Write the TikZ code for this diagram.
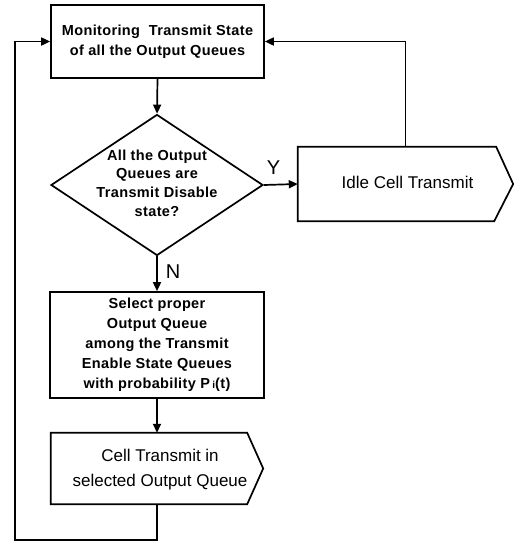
\documentclass[tikz,border=0pt]{standalone}
\usepackage{fontspec}
\setmainfont{Liberation Sans}
\newfontfamily\spacedsans[LetterSpace=2.5]{Liberation Sans}
\usetikzlibrary{arrows.meta,shapes.geometric}

\tikzset{
  outline/.style={draw=black, line width=1.7pt},
  boxnode/.style={outline, rectangle, inner sep=0pt, align=center,
    font=\spacedsans\bfseries\fontsize{14.5}{20}\selectfont},
  plain/.style={inner sep=0pt, align=center, font=\fontsize{17}{25}\selectfont},
  flow/.style={line width=1.7pt, -{Triangle[length=9pt,width=8pt]}},
  yn/.style={inner sep=0pt, font=\fontsize{20}{20}\selectfont},
}

\begin{document}
\begin{tikzpicture}[x=1pt, y=-1pt]
  \useasboundingbox (0,0) rectangle (514,542);

  % process boxes
  \node[boxnode, minimum width=213pt, minimum height=73pt] (monitor) at (157.5,41.5)
    {Monitoring\ \ Transmit State\\of all the Output Queues};

  \node[outline, diamond, minimum width=212pt, minimum height=141pt, inner sep=0pt]
    (check) at (157,185) {};
  \node[boxnode, draw=none, font=\spacedsans\bfseries\fontsize{14.5}{18.7}\selectfont]
    (checktxt) at (157,183)
    {All the Output\\Queues are\\Transmit Disable\\state?};

  \node[boxnode, minimum width=214pt, minimum height=106pt] (select) at (157,345)
    {Select proper\\Output Queue\\among the Transmit\\Enable State Queues\\with probability P\,{\fontsize{10}{10}\selectfont i}(t)};

  % output (signal) shapes
  \node[minimum width=215pt, minimum height=74pt, inner sep=0pt] (idle) at (405.5,184) {};
  \draw[outline, line join=miter] (idle.north west) -- ([xshift=-17pt]idle.north east)
    -- (idle.east) -- ([xshift=-19pt]idle.south east) -- (idle.south west) -- cycle;
  \node[plain] (idletxt) at (407.5,182) {Idle Cell Transmit};

  \node[minimum width=212pt, minimum height=71pt, inner sep=0pt] (cell) at (157,468.5) {};
  \draw[outline, line join=miter] (cell.north west) -- ([xshift=-16pt]cell.north east)
    -- (cell.east) -- ([xshift=-16pt]cell.south east) -- (cell.south west) -- cycle;
  \node[plain] (celltxt) at (160,470) {Cell Transmit in\\selected Output Queue};

  % connectors
  \coordinate (loopcorner) at (15,540);
  \draw[flow] (monitor.south) -- (check.north);
  \draw[flow] (check.east) -- (idle.west);
  \draw[flow] (check.south) -- (select.north);
  \draw[flow] (select.south) -- (cell.north);
  \draw[flow] (idle.north) |- (monitor.east);
  \draw[flow] (cell.south) |- (loopcorner) |- (monitor.west);

  % branch labels
  \node[yn] (ylabel) at (273.5,168) {Y};
  \node[yn] (nlabel) at (173,271.5) {N};
\end{tikzpicture}
\end{document}
